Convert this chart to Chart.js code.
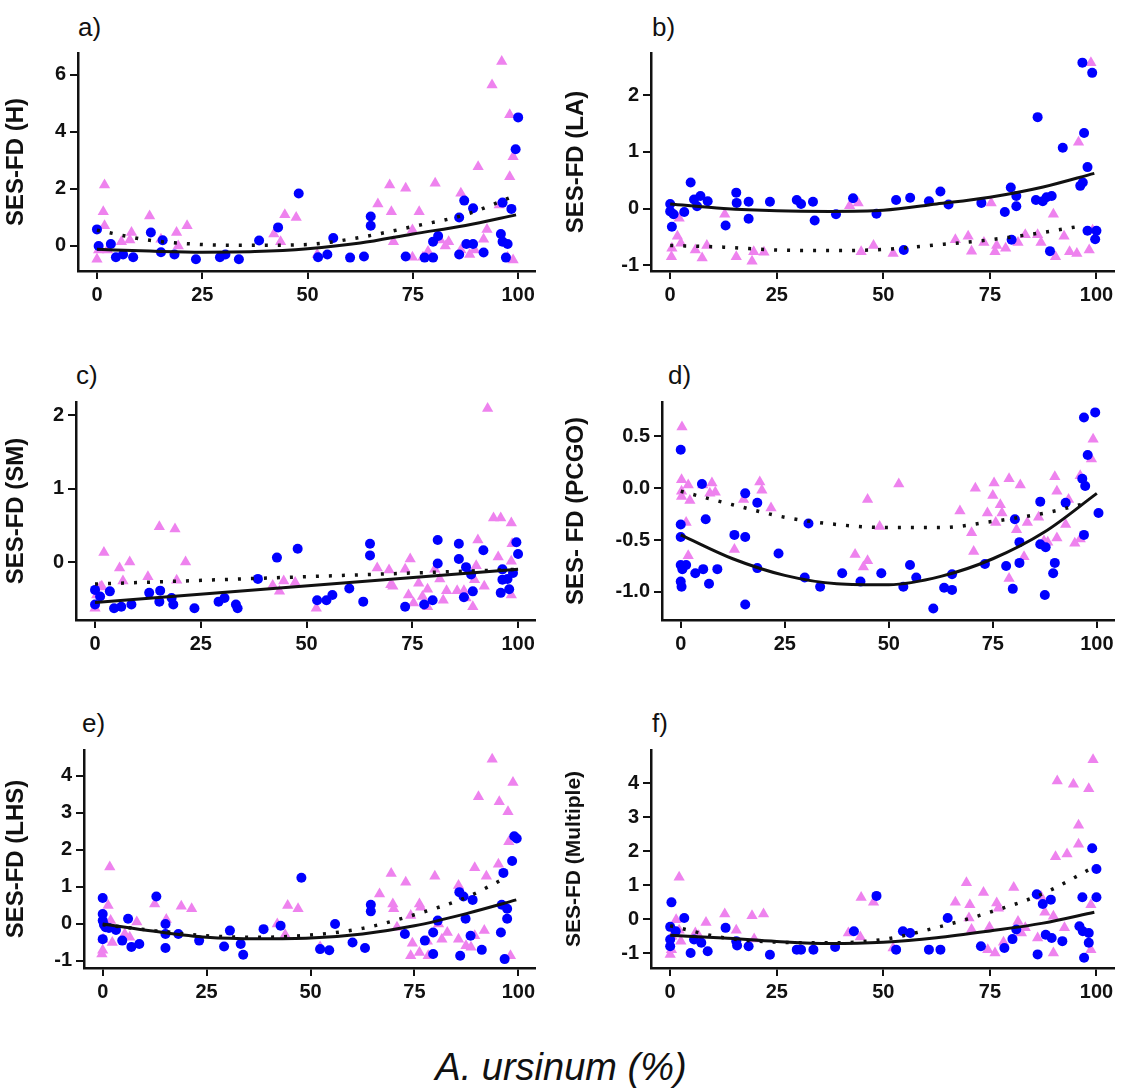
<!DOCTYPE html>
<html>
<head>
<meta charset="utf-8">
<script src="https://cdn.jsdelivr.net/npm/chart.js@4.4.1/dist/chart.umd.min.js"></script>
<style>
  body { margin: 0; background: #fff; width: 1122px; height: 1091px; position: relative; overflow: hidden; font-family: "Liberation Sans", Arial, sans-serif; }
  .panel { position: absolute; }
  .tag { position: absolute; font-size: 26px; color: #111; }
  #xlab { position: absolute; left: 0; width: 1122px; top: 1046px; text-align: center; font-size: 38px; font-style: italic; color: #111; }
</style>
</head>
<body>
<div class="tag" style="left:78px;top:12px">a)</div>
<div class="tag" style="left:652px;top:12px">b)</div>
<div class="tag" style="left:76px;top:360px">c)</div>
<div class="tag" style="left:668px;top:360px">d)</div>
<div class="tag" style="left:82px;top:708px">e)</div>
<div class="tag" style="left:652px;top:708px">f)</div>
<div id="xlab">A. ursinum (%)</div>
<canvas id="ca" class="panel"></canvas>
<canvas id="cb" class="panel"></canvas>
<canvas id="cc" class="panel"></canvas>
<canvas id="cd" class="panel"></canvas>
<canvas id="ce" class="panel"></canvas>
<canvas id="cf" class="panel"></canvas>
<script>
// x ticks shared by every panel
const X_TICKS = [0, 25, 50, 75, 100];

// a) SES-FD (H)
const aNative = [[0,0.58],[0.4,0],[3.3,0.07],[4.5,-0.4],[6.2,-0.3],[8.6,-0.4],[12.8,0.47],[15.2,-0.22],[15.6,0.2],[18.4,-0.3],[23.5,-0.47],[29.2,-0.4],[30.5,-0.3],[33.7,-0.47],[38.5,0.19],[43,0.65],[47.9,1.84],[52.5,-0.4],[54.7,-0.3],[56.1,0.28],[60.1,-0.41],[63.4,-0.37],[65,1.03],[65,0.71],[73.3,-0.37],[77.8,-0.41],[79.8,-0.41],[79.8,0.15],[81,0.35],[86,1.0],[86,-0.3],[87.2,1.59],[87.7,0.07],[89.3,0.07],[89.3,1.32],[91.8,-0.23],[95.9,0.42],[96.3,1.52],[96.3,0.15],[97.5,0.07],[97.1,-0.41],[98.4,1.3],[99.4,3.39],[100,4.51]];
const aInvaded = [[0,-0.47],[0.4,-0.14],[1.8,2.14],[1.5,1.2],[1.8,0.71],[2.5,-0.14],[5.8,0.15],[7.8,0.21],[8.2,0.47],[12.5,1.05],[15.2,0.23],[18.9,0.47],[19.3,0],[21.4,0.71],[42,0.42],[43.6,0.15],[44.6,1.09],[47.3,1.0],[52.3,-0.3],[66.7,1.47],[69.5,2.14],[69.9,1.2],[70.4,0.15],[73.3,2.02],[74.9,0.56],[74.9,-0.4],[76.5,1.2],[77.4,-0.4],[78.6,-0.2],[80.3,2.2],[81.5,0.21],[82.7,0],[83.5,0.15],[86.4,1.85],[86.4,-0.14],[88.5,-0.3],[89.7,-0.14],[90.5,2.78],[91.8,0.23],[92.6,0.58],[93.8,5.65],[96.1,6.47],[95.5,1.44],[98,4.6],[98,2.43],[98.8,3.13],[98.8,-0.49],[97.5,-0.4]];
const aFitNative = [[0,-0.12],[12.5,-0.18],[25,-0.22],[37.5,-0.2],[50,-0.1],[62.5,0.1],[75,0.42],[87.5,0.72],[99.5,1.09]];
const aFitInvaded = [[0,0.55],[12.5,0.2],[25,0.05],[37.5,0.02],[50,0.05],[62.5,0.3],[75,0.68],[87.5,1.1],[99,1.75]];
const aTicks = [0, 2, 4, 6];

// b) SES-FD (LA)
const bNative = [[0,0.08],[0,-0.05],[0.4,-0.32],[0.8,-0.1],[3.3,-0.06],[4.8,0.46],[5.6,0.16],[6.3,0.04],[7.1,0.22],[8.8,0.13],[13,-0.3],[15.5,0.28],[15.6,0.1],[18.4,0.12],[18.4,-0.18],[23.4,0.12],[29.7,0.15],[30.7,0.08],[33.5,0.12],[33.9,-0.21],[38.9,-0.1],[42.9,0.18],[48.4,-0.09],[53,0.15],[54.8,-0.73],[56.3,0.19],[60.7,0.13],[63.4,0.3],[65.3,0.07],[73,0.1],[78.5,-0.06],[79.9,0.37],[81.2,0.22],[81.2,0.04],[80.1,-0.55],[86.2,1.61],[85.8,0.15],[87.4,0.13],[88.3,0.2],[89.5,0.22],[89.1,-0.75],[92.1,1.07],[96.2,0.4],[96.8,0.46],[96.7,2.57],[97.1,1.33],[97.9,0.73],[99,2.39],[97.9,-0.39],[100,-0.39],[99.7,-0.54]];
const bInvaded = [[0.4,-0.7],[0.3,-0.85],[2.1,-0.17],[1.7,-0.49],[2.5,-0.61],[5.9,-0.73],[7.5,-0.87],[8.6,-0.65],[12.8,-0.1],[15.5,-0.85],[19.2,-0.93],[19.6,-0.76],[22,-0.77],[42.1,0.05],[44.1,0.1],[44.8,-0.76],[47.7,-0.65],[52.3,-0.79],[66.9,-0.55],[69.9,-0.49],[70.7,-0.75],[73.6,-0.6],[75.3,0.1],[76.6,-0.65],[76.2,-0.76],[78.7,-0.7],[81.6,-0.6],[83.3,-0.46],[86.2,-0.46],[87,-0.6],[89.9,-0.1],[90.4,-0.85],[92.4,-0.49],[93.7,-0.76],[95.4,-0.79],[95.8,1.17],[98.3,-0.73],[98.7,2.57],[99.1,-0.38]];
const bFitNative = [[0,0.08],[12.5,0.0],[25,-0.04],[37.5,-0.05],[50,-0.03],[62.5,0.08],[75,0.2],[87.5,0.38],[99.5,0.62]];
const bFitInvaded = [[0,-0.65],[12.5,-0.68],[25,-0.73],[37.5,-0.74],[50,-0.72],[62.5,-0.64],[75,-0.55],[87.5,-0.42],[97,-0.3]];
const bTicks = [-1, 0, 1, 2];

// c) SES-FD (SM)
const cNative = [[0,-0.38],[0,-0.58],[1.2,-0.47],[3.5,-0.4],[4.5,-0.63],[6.2,-0.61],[8.6,-0.58],[12.8,-0.42],[15.2,-0.54],[15.4,-0.39],[18.1,-0.49],[18.5,-0.58],[23.5,-0.63],[29.2,-0.54],[30.6,-0.49],[33.7,-0.63],[33.3,-0.58],[38.5,-0.23],[43,0.06],[47.9,0.18],[52.5,-0.52],[54.7,-0.52],[56.1,-0.45],[60.1,-0.36],[63.4,-0.54],[65,0.25],[65,0.09],[73.3,-0.61],[77.8,-0.58],[79.8,-0.52],[81,0.3],[81,-0.02],[86,0.25],[86,0.04],[87.2,-0.48],[87.7,-0.07],[89.3,-0.4],[88.9,-0.17],[91.8,0.16],[95.9,-0.42],[96.3,-0.24],[96.3,-0.1],[97.5,-0.23],[97.9,-0.37],[98.8,-0.15],[99.6,0.27],[100,0.11]];
const cInvaded = [[0,-0.63],[0.4,-0.45],[1.2,-0.34],[2.1,0.13],[1.6,-0.33],[5.8,-0.08],[6.6,-0.26],[8.2,0],[12.5,-0.2],[15.2,0.48],[18.9,0.45],[19.3,-0.25],[21.4,0],[42,-0.32],[43.6,-0.4],[44.6,-0.26],[47.3,-0.28],[52.3,-0.63],[66.7,-0.08],[69.5,-0.11],[69.9,-0.31],[70.4,-0.33],[73.3,-0.1],[74.5,0.04],[74.1,-0.45],[75.3,-0.56],[76.5,-0.29],[77.4,-0.47],[78.6,-0.61],[78.6,-0.37],[80.3,-0.1],[81.5,-0.23],[82.3,-0.52],[83.1,-0.39],[85.6,-0.39],[87.2,-0.39],[87.7,-0.49],[89.3,-0.61],[89.7,-0.24],[90.1,-0.05],[90.5,0.3],[92,-0.33],[92.8,2.09],[94.2,0.6],[95.9,0.6],[95.3,0.07],[98.4,0.53],[98.6,0.25],[98.4,0.01],[98.4,-0.45]];
const cFitNative = [[0,-0.55],[100,-0.1]];
const cFitInvaded = [[0,-0.3],[100,-0.1]];
const cTicks = [0, 1, 2];

// d) SES- FD (PCGO)
const dNative = [[0,0.37],[0,-0.35],[0,-0.47],[0,-0.74],[0.4,-0.78],[1.3,-0.74],[0,-0.9],[0.2,-0.95],[3.5,-0.82],[5.1,0.04],[5.4,-0.78],[6,-0.3],[6.8,-0.92],[8.8,-0.78],[12.9,-0.45],[15.5,-0.05],[15.5,-0.47],[15.5,-1.12],[18.4,-0.14],[18.4,-0.77],[23.5,-0.63],[29.8,-0.86],[30.7,-0.34],[33.5,-0.95],[38.8,-0.82],[43.2,-0.9],[48.2,-0.82],[53.5,-0.95],[55.1,-0.74],[56.6,-0.86],[60.7,-1.16],[63.3,-0.96],[65.2,-0.98],[65.2,-0.83],[73.1,-0.73],[78.2,-0.75],[79.8,-0.97],[80.3,-0.3],[81.4,-0.72],[81.4,-0.52],[86.4,-0.13],[86.4,-0.54],[87.5,-1.03],[87.7,-0.57],[89.5,-0.82],[89.9,-0.72],[92.5,-0.14],[96.5,0.09],[97.2,0.02],[96.9,0.68],[97.8,0.32],[99.6,0.73],[96.9,-0.45],[100.4,-0.24]];
const dInvaded = [[0.3,0.59],[0.2,0.08],[0.2,-0.03],[0.2,-0.08],[1.8,0.03],[1.3,-0.33],[2.2,-0.12],[1.8,-0.65],[5.3,0.03],[7.5,0.05],[7,-0.05],[8.3,-0.04],[12.9,-0.59],[15.1,-0.11],[19,0.06],[19.5,-0.02],[21.7,-0.19],[41.9,-0.64],[44.9,-0.11],[43.9,-0.76],[44.9,-0.7],[47.8,-0.37],[52.4,0.04],[67.1,-0.22],[69.9,-0.43],[70.4,-0.61],[70.8,0],[73.7,-0.24],[75,-0.07],[75.3,0.05],[75.7,-0.33],[76.8,-0.16],[77.2,-0.24],[78.9,0.09],[78.9,-0.87],[80.7,-0.4],[81.6,0.03],[82.5,-0.66],[83.3,-0.33],[86,-0.28],[87.3,-0.51],[88.2,-0.52],[89.9,0.11],[90.4,-0.03],[90.4,-0.48],[92.5,-0.35],[93.2,-0.11],[94.7,-0.53],[96,-0.49],[96,0.12],[98.7,0.28],[99.1,0.47]];
const dFitNative = [[0,-0.45],[12.5,-0.68],[25,-0.84],[37.5,-0.92],[50,-0.93],[62.5,-0.85],[75,-0.68],[87.5,-0.42],[100,-0.05]];
const dFitInvaded = [[0,-0.03],[12.5,-0.16],[25,-0.28],[37.5,-0.35],[50,-0.38],[62.5,-0.38],[75,-0.32],[87.5,-0.24],[97,-0.15]];
const dTicks = [-1, -0.5, 0, 0.5];

// e) SES-FD (LHS)
const eNative = [[0,0.7],[0,0.27],[0,0.09],[0.3,-0.02],[0,-0.41],[0.7,-0.09],[1.5,-0.11],[3.2,-0.16],[4.7,-0.45],[6.1,0.14],[6.9,-0.62],[8.8,-0.54],[12.9,0.74],[15.1,0],[15.1,-0.27],[15.1,-0.65],[18.2,-0.27],[23.2,-0.45],[29.2,-0.61],[30.6,-0.18],[33.2,-0.54],[33.8,-0.83],[38.7,-0.14],[42.8,-0.05],[47.8,1.25],[52.3,-0.68],[54.5,-0.71],[55.9,0],[60.1,-0.5],[63.1,-0.65],[64.5,0.52],[64.5,0.34],[72.7,-0.27],[77.5,-0.45],[79.5,-0.23],[79.5,-0.81],[80.6,0.09],[85.8,0.86],[86,-0.86],[86.8,0.74],[87.3,0.14],[88.5,-0.32],[89,0.65],[91.2,-0.7],[95.8,-0.23],[96,0.52],[96.4,1.38],[97.3,0.14],[97.3,0.41],[96.7,-0.95],[98.5,1.7],[99,2.37],[99.6,2.31]];
const eInvaded = [[-0.2,-0.81],[0,-0.71],[0.1,-0.41],[1.7,1.54],[1.3,0.5],[1.9,0.09],[2.3,-0.5],[5.3,-0.27],[6.5,-0.36],[8.2,0.05],[12.5,0.54],[15.3,0.12],[18.9,0.48],[21.4,0.41],[42,0],[43.9,-0.29],[44.5,0.5],[47,0.41],[52.3,-0.62],[66.6,0.81],[69.4,1.36],[69.8,0.54],[70,0.41],[70.8,-0.09],[72.9,1.13],[74.1,0.23],[74.1,-0.86],[74.5,-0.52],[76.2,0.54],[76.5,0.45],[76.2,-0.77],[78.1,-0.47],[78.3,-0.86],[79.9,1.29],[80.8,0],[81.6,-0.41],[82.9,-0.23],[85.6,1.04],[85.6,-0.41],[87.4,-0.59],[88.6,-0.63],[89.5,1.52],[89.5,-0.32],[90.4,3.44],[91.8,-0.18],[92.3,1.29],[93.7,4.45],[95.4,3.3],[95.2,1.61],[97.5,3.03],[97.7,2.22],[98.7,3.82],[98.1,-0.86]];
const eFitNative = [[0,0.0],[12.5,-0.2],[25,-0.36],[37.5,-0.4],[50,-0.38],[62.5,-0.27],[75,-0.05],[87.5,0.28],[99.5,0.65]];
const eFitInvaded = [[0,-0.02],[12.5,-0.18],[25,-0.32],[37.5,-0.36],[50,-0.3],[62.5,-0.12],[75,0.25],[87.5,0.72],[97,1.25]];
const eTicks = [-1, 0, 1, 2, 3, 4];

// f) SES-FD (Multiple)
const fNative = [[0.3,0.49],[0,-0.23],[0,-0.6],[0,-0.8],[1.3,-0.36],[3.3,0.03],[4.8,-1],[5.6,-0.6],[7.3,-0.7],[8.8,-0.95],[13,-0.26],[15.5,-0.65],[15.7,-0.78],[18.4,-0.8],[23.4,-1.05],[29.7,-0.9],[30.7,-0.9],[33.6,-0.9],[38.7,-0.82],[43.1,-0.36],[48.4,0.68],[53,-0.9],[54.6,-0.36],[56.3,-0.41],[60.7,-0.9],[63.4,-0.9],[65.1,0.03],[72.9,-0.8],[78.4,-0.85],[80.3,-0.59],[81.2,-0.31],[86,0.73],[86.2,-1.04],[87.4,0.44],[88.1,-0.46],[89.3,0.57],[89.5,-0.56],[92,-0.65],[96.7,0.64],[96,-0.21],[96.8,-0.36],[97.1,-1.14],[98.2,-0.41],[98.2,-0.7],[99,2.08],[100,1.47],[100,0.64]];
const fInvaded = [[0,-1.04],[0.3,-0.9],[0.4,-0.51],[2.1,1.23],[1.4,-0.02],[2.5,-0.65],[2.1,-0.33],[5.9,-0.41],[6.7,-0.49],[8.4,-0.1],[12.8,0.15],[15.5,-0.33],[19.2,0.1],[19.7,-0.59],[21.9,0.15],[41.8,-0.41],[44.6,-0.53],[44.8,0.63],[47.7,0.49],[52.3,-0.85],[66.9,0.49],[69.5,1.07],[70.3,0.42],[70.1,0.03],[70.7,-0.31],[73.5,0.78],[74.5,-0.9],[74.9,-0.24],[76.2,-1],[76.6,0.47],[77,0.32],[78.2,-0.68],[80.6,0.93],[81.6,-0.07],[82.4,-0.41],[83.3,-0.26],[86.2,-0.56],[87,0.66],[87.9,0.2],[89.9,-1],[89.9,0.08],[90.4,1.83],[90.8,4.06],[92.5,-0.26],[93.1,1.91],[94.6,3.96],[95.8,2.76],[95.8,2.2],[98.2,3.83],[99.2,4.68],[98.7,0.42],[98.7,-0.9]];
const fFitNative = [[0,-0.48],[12.5,-0.56],[25,-0.66],[37.5,-0.72],[50,-0.68],[62.5,-0.55],[75,-0.35],[87.5,-0.12],[99.5,0.2]];
const fFitInvaded = [[0,-0.2],[12.5,-0.55],[25,-0.68],[37.5,-0.7],[50,-0.6],[62.5,-0.25],[75,0.2],[87.5,0.75],[99,1.5]];
const fTicks = [-1, 0, 1, 2, 3, 4];

const BLUE = "#0000ff";
const VIOLET = "#ee82ee";
const INK = "#111111";
const FAMILY = '"Liberation Sans", Arial, sans-serif';
const TICK_FONT = { family: FAMILY, size: 20, weight: "bold" };
const X_H = 52;

const pts = (arr) => arr.map(([x, y]) => ({ x, y }));

function config(box, o) {
  const datasets = [
    { type: "line", data: pts(o.fitNative), borderColor: INK, borderWidth: 3, pointRadius: 0, tension: 0.4, cubicInterpolationMode: "monotone", order: 0 },
    { type: "line", data: pts(o.fitInvaded), borderColor: INK, borderWidth: 3.5, borderDash: [3, 10], pointRadius: 0, tension: 0.4, cubicInterpolationMode: "monotone", order: 0 },
    { type: "scatter", data: pts(o.invaded), backgroundColor: VIOLET, borderWidth: 0, pointStyle: "triangle", pointRadius: 6.5, order: 2 },
    { type: "scatter", data: pts(o.native), backgroundColor: BLUE, borderWidth: 0, pointStyle: "circle", pointRadius: 5, order: 1 },
  ];
  return {
    type: "scatter",
    data: { datasets },
    options: {
      responsive: false,
      animation: false,
      devicePixelRatio: 1,
      layout: { padding: { top: 0, right: box.padRight, bottom: 0, left: 0 } },
      plugins: { legend: { display: false }, tooltip: { enabled: false } },
      scales: {
        x: {
          type: "linear", min: -4.5, max: 104,
          afterBuildTicks: (s) => { s.ticks = X_TICKS.map((v) => ({ value: v })); },
          afterFit: (s) => { s.height = X_H; },
          grid: { drawOnChartArea: false, drawTicks: true, tickLength: 8, color: INK, lineWidth: 2 },
          border: { display: true, color: INK, width: 2.5 },
          ticks: { color: INK, font: TICK_FONT, padding: 4, maxRotation: 0 },
        },
        y: {
          type: "linear", min: o.ymin, max: o.ymax,
          afterBuildTicks: (s) => { s.ticks = o.ticks.map((v) => ({ value: v })); },
          afterFit: (s) => { s.width = box.yW; },
          grid: { drawOnChartArea: false, drawTicks: true, tickLength: 8, color: INK, lineWidth: 2 },
          border: { display: true, color: INK, width: 2.5 },
          ticks: { color: INK, font: TICK_FONT, padding: 4, callback: o.fmt || ((v) => v) },
          title: { display: true, text: o.title, color: INK, padding: 2, font: { family: FAMILY, size: o.titleSize || 24, weight: "bold" } },
        },
      },
    },
  };
}

function place(cv, left, top, w, h) {
  cv.width = w;
  cv.height = h;
  cv.style.left = left + "px";
  cv.style.top = top + "px";
  cv.style.width = w + "px";
  cv.style.height = h + "px";
}

function makePanel(id, box, o) {
  const cv = document.getElementById(id);
  const h = box.height + X_H;
  place(cv, box.left, box.top, box.width, h);
  // first pass: measure the room the layout reserves above the plot
  // (overhanging tick labels), then rebuild on a taller canvas shifted up
  let chart = new Chart(cv, config(box, o));
  const dy = Math.round(chart.chartArea.top);
  if (dy > 0) {
    chart.destroy();
    place(cv, box.left, box.top - dy, box.width, h + dy);
    chart = new Chart(cv, config(box, o));
  }
}

makePanel("ca", { left: 0, top: 53, width: 545, height: 218, yW: 78, padRight: 10 },
  { native: aNative, invaded: aInvaded, fitNative: aFitNative, fitInvaded: aFitInvaded, ticks: aTicks, ymin: -0.88, ymax: 6.77, title: "SES-FD (H)" });
makePanel("cb", { left: 560, top: 53, width: 560, height: 218, yW: 91, padRight: 5 },
  { native: bNative, invaded: bInvaded, fitNative: bFitNative, fitInvaded: bFitInvaded, ticks: bTicks, ymin: -1.1, ymax: 2.74, title: "SES-FD (LA)" });
makePanel("cc", { left: 0, top: 402, width: 545, height: 218, yW: 76, padRight: 10 },
  { native: cNative, invaded: cInvaded, fitNative: cFitNative, fitInvaded: cFitInvaded, ticks: cTicks, ymin: -0.79, ymax: 2.18, title: "SES-FD (SM)" });
makePanel("cd", { left: 560, top: 402, width: 560, height: 218, yW: 102, padRight: 5 },
  { native: dNative, invaded: dInvaded, fitNative: dFitNative, fitInvaded: dFitInvaded, ticks: dTicks, ymin: -1.27, ymax: 0.83, title: "SES- FD (PCGO)", fmt: (v) => v.toFixed(1) });
makePanel("ce", { left: 0, top: 750, width: 545, height: 218, yW: 84, padRight: 10 },
  { native: eNative, invaded: eInvaded, fitNative: eFitNative, fitInvaded: eFitInvaded, ticks: eTicks, ymin: -1.19, ymax: 4.7, title: "SES-FD (LHS)" });
makePanel("cf", { left: 560, top: 750, width: 560, height: 218, yW: 91, padRight: 5 },
  { native: fNative, invaded: fInvaded, fitNative: fFitNative, fitInvaded: fFitInvaded, ticks: fTicks, ymin: -1.44, ymax: 4.97, title: "SES-FD (Multiple)", titleSize: 21 });
</script>
</body>
</html>
